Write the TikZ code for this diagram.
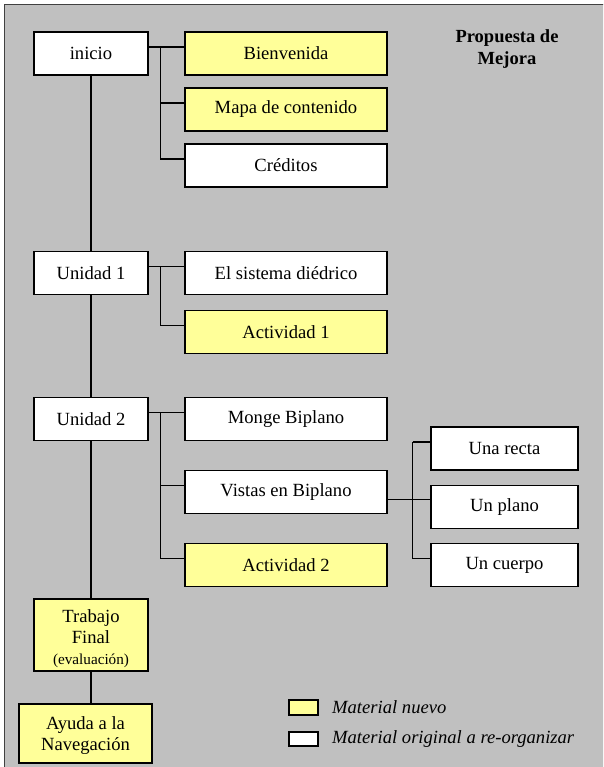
\documentclass[tikz,border=0pt]{standalone}
\usepackage{fontspec}
\setmainfont{Liberation Serif}
\usetikzlibrary{calc}
\definecolor{bggray}{HTML}{C0C0C0}
\definecolor{newyellow}{HTML}{FFFF99}
\definecolor{framegray}{HTML}{404040}
\begin{document}
\begin{tikzpicture}[x=1pt,y=-1pt,
  box/.style={draw=black, line width=1.25pt, fill=white, inner sep=0pt, minimum height=43pt, font=\fontsize{18.6}{21}\selectfont, align=center},
  newbox/.style={box, fill=newyellow},
  colA/.style={minimum width=114pt},
  colB/.style={minimum width=202pt},
  colC/.style={minimum width=147pt},
  link/.style={draw=black, line width=1.25pt},
  legtxt/.style={anchor=west, inner sep=0pt, font=\itshape\fontsize{18.6}{21}\selectfont}]
\useasboundingbox (0,0) rectangle (603,767);
\clip (0,0) rectangle (603,767);
\draw[fill=bggray, draw=framegray, line width=1.5pt] (4.5,4.5) rectangle (640,800);

% title
\node[font=\bfseries\fontsize{18.5}{22}\selectfont, align=center] (title) at (507,49) {Propuesta de\\Mejora};

% column A
\node[box,colA] (inicio) at (91,53.5) {inicio};
\node[box,colA] (u1) at (91,273) {Unidad 1};
\node[box,colA] (u2) at (91,419) {Unidad 2};
\node[newbox,colA,minimum height=72pt] (trab) at (91,635) {\rule{0pt}{20pt}Trabajo\\Final\\{\fontsize{15.2}{18}\selectfont(evaluación)}};
\node[newbox,minimum width=133pt,minimum height=59pt] (ayuda) at (85.5,733.5) {\rule{0pt}{17pt}Ayuda a la\\Navegación};

% column B
\node[newbox,colB] (bienv) at (286,53.5) {Bienvenida};
\node[newbox,colB] (mapa) at (286,109.5) {Mapa de contenido};
\node[box,colB] (cred) at (286,165.5) {Créditos};
\node[box,colB] (sist) at (286,273) {El sistema diédrico};
\node[newbox,colB] (act1) at (286,332) {Actividad 1};
\node[box,colB] (monge) at (286,419) {Monge Biplano};
\node[box,colB] (vistas) at (286,492) {Vistas en Biplano};
\node[newbox,colB] (act2) at (286,565) {Actividad 2};

% column C
\node[box,colC] (recta) at (504.5,448.5) {Una recta};
\node[box,colC] (plano) at (504.5,507) {Un plano};
\node[box,colC] (cuerpo) at (504.5,565) {Un cuerpo};

% legend
\node[newbox, minimum width=29pt, minimum height=15pt] (lgnew) at (303.5,707.5) {};
\node[box, minimum width=29pt, minimum height=14pt] (lgold) at (303.5,739) {};
\node[legtxt] (lgnewtxt) at (332,707) {Material nuevo};
\node[legtxt] (lgoldtxt) at (332,739) {Material original a re-organizar};

% trunk
\draw[link] (inicio.south) -- (u1.north);
\draw[link] (u1.south) -- (u2.north);
\draw[link] (u2.south) -- (trab.north);
\draw[link] (trab.south) -- (trab.south |- ayuda.north);

% inicio branches
\coordinate (j0) at ($([yshift=6.5pt]inicio.east)+(12,0)$);
\draw[link] ([yshift=6.5pt]inicio.east) -- ([yshift=6.5pt]bienv.west);
\draw[link] (j0) |- ([yshift=6.5pt]mapa.west);
\draw[link] (j0) |- ([yshift=6.5pt]cred.west);

% Unidad 1 branches
\coordinate (j1) at ($([yshift=6.5pt]u1.east)+(12,0)$);
\draw[link] ([yshift=6.5pt]u1.east) -- ([yshift=6.5pt]sist.west);
\draw[link] (j1) |- ([yshift=6.5pt]act1.west);

% Unidad 2 branches
\coordinate (j2) at ($([yshift=6.5pt]u2.east)+(12,0)$);
\draw[link] ([yshift=6.5pt]u2.east) -- ([yshift=6.5pt]monge.west);
\draw[link] (j2) |- ([yshift=6.5pt]vistas.west);
\draw[link] (j2) |- ([yshift=6.5pt]act2.west);

% Vistas branches
\coordinate (pl) at ([yshift=7.5pt]plano.west);
\coordinate (j3) at ($(vistas.east |- pl)+(25,0)$);
\draw[link] (vistas.east |- pl) -- (pl);
\draw[link] ([yshift=6.5pt]recta.west -| j3) -- ([yshift=6.5pt]cuerpo.west -| j3);
\draw[link] ([yshift=6.5pt]recta.west -| j3) -- ([yshift=6.5pt]recta.west);
\draw[link] ([yshift=6.5pt]cuerpo.west -| j3) -- ([yshift=6.5pt]cuerpo.west);
\end{tikzpicture}
\end{document}
